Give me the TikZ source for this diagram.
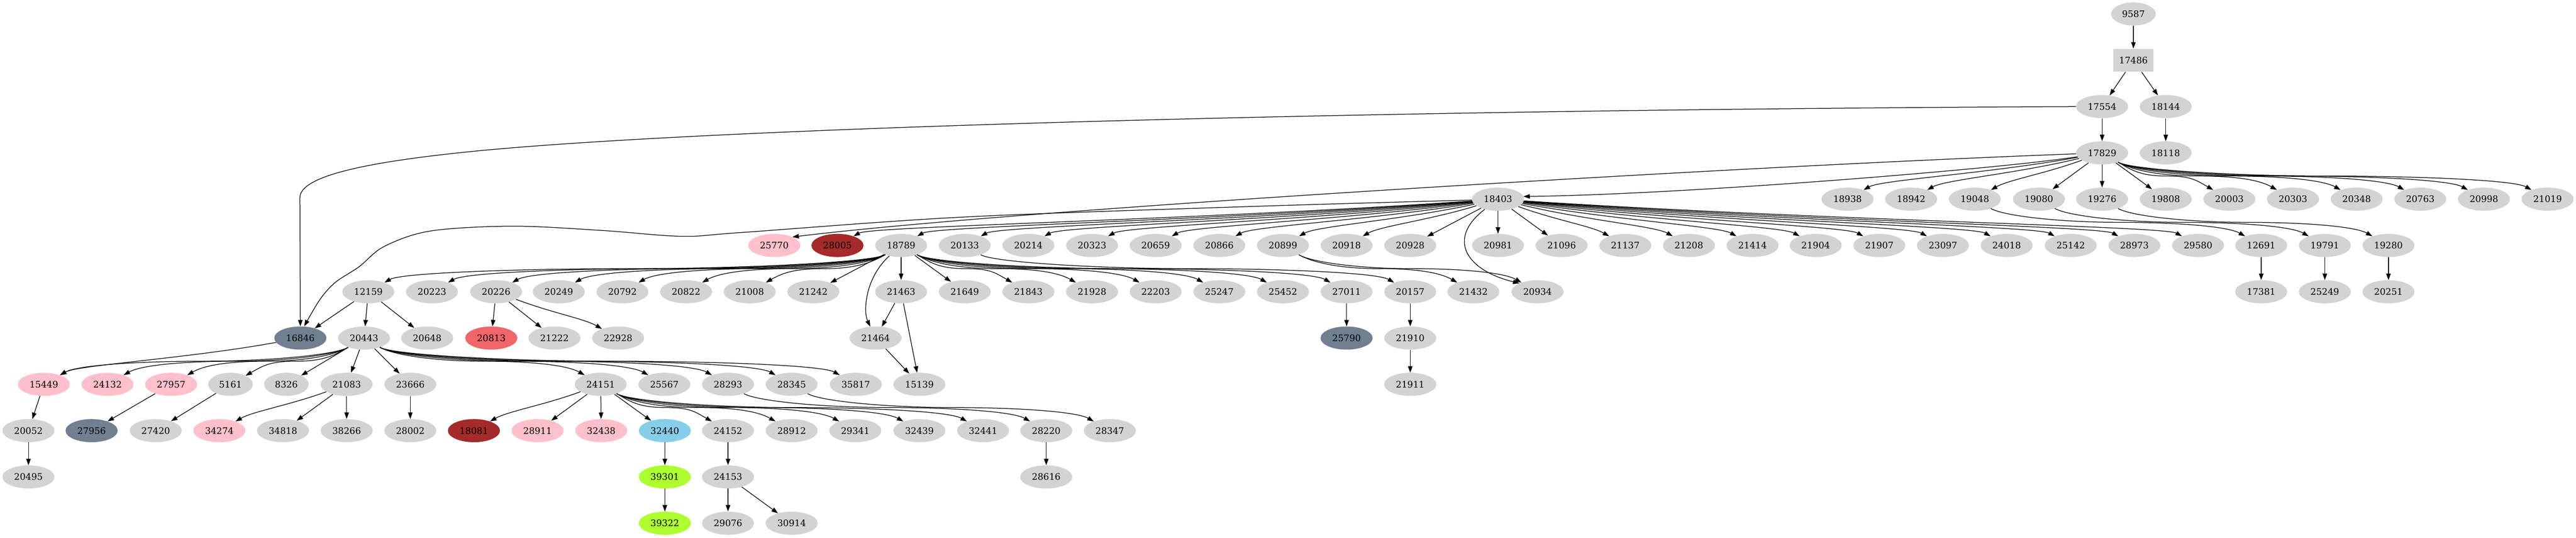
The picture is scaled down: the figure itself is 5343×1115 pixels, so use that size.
\documentclass[tikz,border=0pt]{standalone}
\usepackage{fontspec}
\setmainfont{DejaVu Serif}
\usetikzlibrary{shapes.geometric,arrows.meta,calc}
\definecolor{lgray}{HTML}{D3D3D3}
\definecolor{pinkc}{HTML}{FFC0CB}
\definecolor{brownc}{HTML}{A52A2A}
\definecolor{slatec}{HTML}{708090}
\definecolor{coralc}{RGB}{240,102,106}
\definecolor{skyc}{HTML}{87CEEB}
\definecolor{gyc}{HTML}{ADFF2F}
\tikzset{
  nd/.style={ellipse, fill=lgray, draw=none, minimum width=81pt, minimum height=36pt, inner sep=0pt, font=\fontsize{14}{16}\selectfont},
  nd4/.style={nd, minimum width=69.4pt},
  bx/.style={rectangle, fill=lgray, draw=none, minimum width=63pt, minimum height=36pt, inner sep=0pt, font=\fontsize{14}{16}\selectfont},
  ed/.style={draw=black, line width=1pt, -{Triangle[length=10pt,width=7pt]}},
}
% straight edge
\newcommand{\gvS}[2]{\draw[ed] (n#1) -- (n#2);}
% simple fan edges (leave from the side)
\newcommand{\gvR}[2]{\draw[ed] (n#1) .. controls ($(n#1)!0.45!(n#2)$) and ($(n#2)+(-70,40)$) .. (n#2);}
\newcommand{\gvL}[2]{\draw[ed] (n#1) .. controls ($(n#1)!0.45!(n#2)$) and ($(n#2)+(70,40)$) .. (n#2);}
% fan edges that leave downwards and run between the ranks
\newcommand{\gvRR}[2]{\draw[ed] (n#1) .. controls ($(n#1)+(60,-35)$) and ($(n#1)!0.3!(n#2)+(0,-19.2)$) .. ($(n#1)!0.5!(n#2)$) .. controls ($(n#1)!0.7!(n#2)+(0,19.2)$) and ($(n#2)+(-70,40)$) .. (n#2);}
\newcommand{\gvLL}[2]{\draw[ed] (n#1) .. controls ($(n#1)+(-60,-35)$) and ($(n#1)!0.3!(n#2)+(0,-19.2)$) .. ($(n#1)!0.5!(n#2)$) .. controls ($(n#1)!0.7!(n#2)+(0,19.2)$) and ($(n#2)+(70,40)$) .. (n#2);}
\begin{document}
\begin{tikzpicture}[x=0.75pt,y=0.75pt]
\useasboundingbox (0,0) rectangle (5343,1115);
% rank 0-3
\node[nd4] (n9587) at (4425,1086) {9587};
\node[bx] (n17486) at (4425,990) {17486};
\node[nd] (n17554) at (4360,894) {17554};
\node[nd] (n18144) at (4492,894) {18144};
\node[nd] (n17829) at (4360,798) {17829};
\node[nd] (n18118) at (4492,798) {18118};
% rank 4
\node[nd] (n18403) at (3107,702) {18403};
\node[nd] (n18938) at (3832,702) {18938};
\node[nd] (n18942) at (3964,702) {18942};
\node[nd] (n19048) at (4096,702) {19048};
\node[nd] (n19080) at (4229,702) {19080};
\node[nd] (n19276) at (4360,702) {19276};
\node[nd] (n19808) at (4492,702) {19808};
\node[nd] (n20003) at (4624,702) {20003};
\node[nd] (n20303) at (4756,702) {20303};
\node[nd] (n20348) at (4888,702) {20348};
\node[nd] (n20763) at (5020,702) {20763};
\node[nd] (n20998) at (5152,702) {20998};
\node[nd] (n21019) at (5284,702) {21019};
% rank 5
\node[nd,fill=pinkc] (n25770) at (1606,606) {25770};
\node[nd,fill=brownc] (n28005) at (1737,606) {28005};
\node[nd] (n18789) at (1869,606) {18789};
\node[nd] (n20133) at (2001,606) {20133};
\node[nd] (n20214) at (2133,606) {20214};
\node[nd] (n20323) at (2265,606) {20323};
\node[nd] (n20659) at (2397,606) {20659};
\node[nd] (n20866) at (2529,606) {20866};
\node[nd] (n20899) at (2661,606) {20899};
\node[nd] (n20918) at (2793,606) {20918};
\node[nd] (n20928) at (2925,606) {20928};
\node[nd] (n20981) at (3107,606) {20981};
\node[nd] (n21096) at (3239,606) {21096};
\node[nd] (n21137) at (3371,606) {21137};
\node[nd] (n21208) at (3503,606) {21208};
\node[nd] (n21414) at (3635,606) {21414};
\node[nd] (n21904) at (3766,606) {21904};
\node[nd] (n21907) at (3898,606) {21907};
\node[nd] (n23097) at (4030,606) {23097};
\node[nd] (n24018) at (4162,606) {24018};
\node[nd] (n25142) at (4295,606) {25142};
\node[nd] (n28973) at (4427,606) {28973};
\node[nd] (n29580) at (4559,606) {29580};
\node[nd] (n12691) at (4690,606) {12691};
\node[nd] (n19791) at (4822,606) {19791};
\node[nd] (n19280) at (4954,606) {19280};
% rank 6
\node[nd] (n12159) at (764,510) {12159};
\node[nd] (n20223) at (896,510) {20223};
\node[nd] (n20226) at (1029,510) {20226};
\node[nd] (n20249) at (1159,510) {20249};
\node[nd] (n20792) at (1291,510) {20792};
\node[nd] (n20822) at (1423,510) {20822};
\node[nd] (n21008) at (1555,510) {21008};
\node[nd] (n21242) at (1687,510) {21242};
\node[nd] (n21463) at (1869,510) {21463};
\node[nd] (n21649) at (2001,510) {21649};
\node[nd] (n21843) at (2133,510) {21843};
\node[nd] (n21928) at (2265,510) {21928};
\node[nd] (n22203) at (2397,510) {22203};
\node[nd] (n25247) at (2529,510) {25247};
\node[nd] (n25452) at (2661,510) {25452};
\node[nd] (n27011) at (2793,510) {27011};
\node[nd] (n20157) at (2925,510) {20157};
\node[nd] (n21432) at (3056,510) {21432};
\node[nd] (n20934) at (3189,510) {20934};
\node[nd] (n17381) at (4690,510) {17381};
\node[nd] (n25249) at (4822,510) {25249};
\node[nd] (n20251) at (4954,510) {20251};
% rank 7
\node[nd,fill=slatec] (n16846) at (623,414) {16846};
\node[nd] (n20443) at (755,414) {20443};
\node[nd] (n20648) at (886,414) {20648};
\node[nd,fill=coralc] (n20813) at (1019,414) {20813};
\node[nd] (n21222) at (1150,414) {21222};
\node[nd] (n22928) at (1282,414) {22928};
\node[nd] (n21464) at (1816,414) {21464};
\node[nd,fill=slatec] (n25790) at (2793,414) {25790};
\node[nd] (n21910) at (2925,414) {21910};
% rank 8
\node[nd,fill=pinkc] (n15449) at (91,318) {15449};
\node[nd,fill=pinkc] (n24132) at (223,318) {24132};
\node[nd,fill=pinkc] (n27957) at (355,318) {27957};
\node[nd4] (n5161) at (478,318) {5161};
\node[nd4] (n8326) at (594,318) {8326};
\node[nd] (n21083) at (719,318) {21083};
\node[nd] (n23666) at (851,318) {23666};
\node[nd] (n24151) at (1246,318) {24151};
\node[nd] (n25567) at (1378,318) {25567};
\node[nd] (n28293) at (1510,318) {28293};
\node[nd] (n28345) at (1642,318) {28345};
\node[nd] (n35817) at (1775,318) {35817};
\node[nd] (n15139) at (1907,318) {15139};
\node[nd] (n21911) at (2925,318) {21911};
% rank 9
\node[nd] (n20052) at (59,222) {20052};
\node[nd,fill=slatec] (n27956) at (190,222) {27956};
\node[nd] (n27420) at (323,222) {27420};
\node[nd,fill=pinkc] (n34274) at (455,222) {34274};
\node[nd] (n34818) at (587,222) {34818};
\node[nd] (n38266) at (719,222) {38266};
\node[nd] (n28002) at (851,222) {28002};
\node[nd,fill=brownc] (n18081) at (983,222) {18081};
\node[nd,fill=pinkc] (n28911) at (1115,222) {28911};
\node[nd,fill=pinkc] (n32438) at (1247,222) {32438};
\node[nd,fill=skyc] (n32440) at (1379,222) {32440};
\node[nd] (n24152) at (1510,222) {24152};
\node[nd] (n28912) at (1642,222) {28912};
\node[nd] (n29341) at (1774,222) {29341};
\node[nd] (n32439) at (1907,222) {32439};
\node[nd] (n32441) at (2039,222) {32441};
\node[nd] (n28220) at (2170,222) {28220};
\node[nd] (n28347) at (2302,222) {28347};
% rank 10-11
\node[nd] (n20495) at (59,126) {20495};
\node[nd,fill=gyc] (n39301) at (1379,126) {39301};
\node[nd] (n24153) at (1510,126) {24153};
\node[nd] (n28616) at (2170,126) {28616};
\node[nd,fill=gyc] (n39322) at (1379,30) {39322};
\node[nd] (n29076) at (1510,30) {29076};
\node[nd] (n30914) at (1642,30) {30914};
% bend points of long edges
\coordinate (k1) at (1000,803);
\coordinate (k2) at (622,705);
% special long edges
\draw[ed] (n17554.west) .. controls (2800,887) and (1500,850) .. (k1) .. controls (760,780) and (622,750) .. (k2) -- (n16846);
\draw[ed] plot[smooth, tension=0.55] coordinates {(n18403.182) (2600,687) (2000,665) (1540,633) (1414,625) (1250,637) (1064,646) (893,636) (797,604) (745,562) (695,529) (663,493) ([xshift=6pt]n16846.north)};
\draw[ed] (n17829) .. controls (3600,770) and (2100,680) .. (n25770.25);
\draw[ed] (n17829) .. controls (4150,765) and (3500,712) .. (n18403.6);
\draw[ed] (n18789) .. controls (1795,540) and (1790,470) .. (n21464);
\draw[ed] (n18403) .. controls (3000,620) and (3040,555) .. (n20934.155);
% straight edges
\gvS{9587}{17486}
\gvS{17486}{17554}
\gvS{17486}{18144}
\gvS{17554}{17829}
\gvS{18144}{18118}
\gvS{17829}{19080}
\gvS{17829}{19276}
\gvS{17829}{19808}
\gvS{18403}{20928}
\gvS{18403}{20981}
\gvS{18403}{21096}
\gvS{18789}{21242}
\gvS{18789}{21463}
\gvS{18789}{21649}
\gvS{12159}{16846}
\gvS{12159}{20443}
\gvS{12159}{20648}
\gvS{20226}{20813}
\gvS{20226}{21222}
\gvS{20443}{8326}
\gvS{20443}{21083}
\gvS{20443}{23666}
\gvS{21083}{34818}
\gvS{21083}{38266}
\gvS{24151}{28911}
\gvS{24151}{32438}
\gvS{24151}{32440}
\gvS{21463}{21464}
\gvS{21463}{15139}
\gvS{21464}{15139}
\gvS{15449}{20052}
\gvS{20052}{20495}
\gvS{27957}{27956}
\gvS{5161}{27420}
\gvS{23666}{28002}
\gvS{32440}{39301}
\gvS{39301}{39322}
\gvS{24152}{24153}
\gvS{24153}{29076}
\gvS{24153}{30914}
\gvS{28220}{28616}
\gvS{27011}{25790}
\gvS{20157}{21910}
\gvS{21910}{21911}
\gvS{12691}{17381}
\gvS{19791}{25249}
\gvS{19280}{20251}
% fan edges from 18403 (leave from the side)
\gvR{18403}{21137}
\gvR{18403}{21208}
\gvR{18403}{21414}
\gvR{18403}{21904}
\gvR{18403}{21907}
\gvR{18403}{23097}
\gvR{18403}{24018}
\gvR{18403}{25142}
\gvR{18403}{28973}
\gvR{18403}{29580}
\gvL{18403}{28005}
\gvL{18403}{18789}
\gvL{18403}{20133}
\gvL{18403}{20214}
\gvL{18403}{20323}
\gvL{18403}{20659}
\gvL{18403}{20866}
\gvL{18403}{20899}
\gvL{18403}{20918}
\gvL{17829}{18938}
\gvL{17829}{18942}
\gvL{17829}{19048}
\gvL{16846}{15449}
\gvL{21083}{34274}
\gvL{24151}{18081}
\gvR{20226}{22928}
% fan edges running between the ranks
\gvRR{17829}{20003}
\gvRR{17829}{20303}
\gvRR{17829}{20348}
\gvRR{17829}{20763}
\gvRR{17829}{20998}
\gvRR{17829}{21019}
\gvRR{19048}{12691}
\gvRR{19080}{19791}
\gvRR{19276}{19280}
\gvRR{18789}{21843}
\gvRR{18789}{21928}
\gvRR{18789}{22203}
\gvRR{18789}{25247}
\gvRR{18789}{25452}
\gvRR{18789}{27011}
\gvRR{20133}{20157}
\gvRR{20899}{21432}
\gvRR{20899}{20934}
\gvRR{20443}{24151}
\gvRR{20443}{25567}
\gvRR{20443}{28293}
\gvRR{20443}{28345}
\gvRR{20443}{35817}
\gvRR{24151}{24152}
\gvRR{24151}{28912}
\gvRR{24151}{29341}
\gvRR{24151}{32439}
\gvRR{24151}{32441}
\gvRR{28293}{28220}
\gvRR{28345}{28347}
\gvLL{18789}{12159}
\gvLL{18789}{20223}
\gvLL{18789}{20226}
\gvLL{18789}{20249}
\gvLL{18789}{20792}
\gvLL{18789}{20822}
\gvLL{18789}{21008}
\gvLL{20443}{15449}
\gvLL{20443}{24132}
\gvLL{20443}{27957}
\gvLL{20443}{5161}
\end{tikzpicture}
\end{document}
